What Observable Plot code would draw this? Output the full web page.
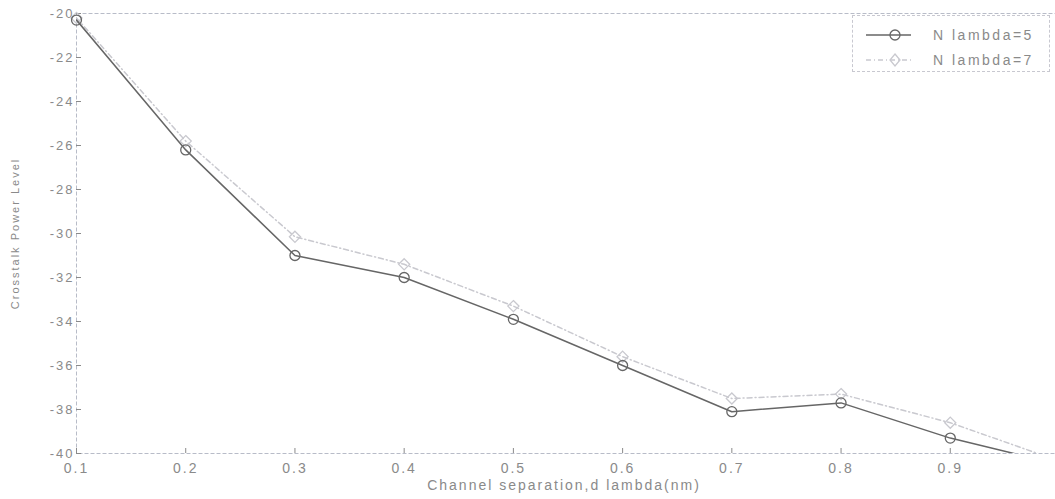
<!DOCTYPE html>
<html>
<head>
<meta charset="utf-8">
<script src="https://cdn.jsdelivr.net/npm/d3@7"></script>
<script src="https://cdn.jsdelivr.net/npm/@observablehq/plot@0.6"></script>
<style>
  html, body { margin: 0; padding: 0; background: #fff; }
  #wrap { position: relative; width: 1055px; height: 499px; overflow: hidden; font-family: "Liberation Sans", Arial, sans-serif; }
  #wrap svg text { letter-spacing: 2px; }
  #legend {
    position: absolute; left: 852px; top: 15px; width: 198px; height: 57px;
    border: 1px dashed #c8c8d0; background: #fff; box-sizing: border-box;
    font-size: 14px; color: #8a8a8a; letter-spacing: 2.5px;
  }
  #legend .row { position: absolute; left: 0; height: 22px; display: flex; align-items: center; }
  #legend svg { display: block; }
</style>
</head>
<body>
<div id="wrap"></div>
<script>
// Channel separation (nm)
const separation = [0.1, 0.2, 0.3, 0.4, 0.5, 0.6, 0.7, 0.8, 0.9, 1.0];
// Crosstalk power level for 5 and 7 wavelengths
const crosstalkN5 = [-20.3, -26.2, -31.0, -32.0, -33.9, -36.0, -38.1, -37.7, -39.3, -40.5];
const crosstalkN7 = [-20.2, -25.8, -30.15, -31.4, -33.3, -35.6, -37.5, -37.3, -38.6, -40.35];
const seriesNames = ["N lambda=5", "N lambda=7"];
const xTicks = [0.1, 0.2, 0.3, 0.4, 0.5, 0.6, 0.7, 0.8, 0.9];
const yTicks = [-40, -38, -36, -34, -32, -30, -28, -26, -24, -22, -20];

const rows5 = separation.map((x, i) => ({x, y: crosstalkN5[i]}));
const rows7 = separation.map((x, i) => ({x, y: crosstalkN7[i]}));

const dark = "#666666";
const light = "#c9c9cf";
const axisGray = "#8a8a8a";

const chart = Plot.plot({
  width: 1055,
  height: 499,
  marginLeft: 76,
  marginRight: -4,
  marginTop: 13,
  marginBottom: 46,
  style: {fontFamily: "'Liberation Sans', Arial, sans-serif", fontSize: "13px", color: axisGray, background: "#fff", overflow: "hidden"},
  x: {domain: [0.1, 1.0], label: null},
  y: {domain: [-40, -20], label: null},
  marks: [
    Plot.frame({stroke: "#b8bcc8", strokeDasharray: "4,2"}),
    Plot.axisX({ticks: xTicks, tickFormat: d => d.toFixed(1), tickSize: -5, tickPadding: 15, stroke: axisGray, fill: axisGray, fontSize: 14}),
    Plot.axisY({ticks: yTicks, tickFormat: d => String(d), tickSize: -5, tickPadding: 7, stroke: axisGray, fill: axisGray, fontSize: 13}),
    Plot.axisY({anchor: "right", ticks: yTicks, tickSize: -5, tickFormat: () => "", stroke: "#c0c0c0"}),
    Plot.line(rows7, {x: "x", y: "y", stroke: light, strokeWidth: 1.5, strokeDasharray: "5,3,1,3", clip: true}),
    Plot.dot(rows7.filter(d => d.y >= -40), {x: "x", y: "y", symbol: "diamond2", r: 5, stroke: light, strokeWidth: 1.3, fill: "none"}),
    Plot.line(rows5, {x: "x", y: "y", stroke: dark, strokeWidth: 1.5, clip: true}),
    Plot.dot(rows5.filter(d => d.y >= -40), {x: "x", y: "y", symbol: "circle", r: 5, stroke: dark, strokeWidth: 1.3, fill: "none"}),
    Plot.text(["Channel separation,d lambda(nm)"], {frameAnchor: "bottom", dy: 36, dx: -4, fill: axisGray, fontSize: 14}),
    Plot.text(["Crosstalk Power Level"], {frameAnchor: "left", textAnchor: "middle", dx: -61, rotate: -90, fill: axisGray, fontSize: 11})
  ]
});

const wrap = document.getElementById("wrap");
wrap.appendChild(chart);

// Legend box in the upper right corner of the plot area
const legend = document.createElement("div");
legend.id = "legend";
const entries = [
  {name: seriesNames[0], color: dark, dash: null, symbol: "circle"},
  {name: seriesNames[1], color: light, dash: "5,3,1,3", symbol: "diamond"}
];
entries.forEach((e, i) => {
  const row = document.createElement("div");
  row.className = "row";
  row.style.top = (8 + i * 25) + "px";
  const marker = e.symbol === "circle"
    ? `<circle cx="42" cy="11" r="5" fill="none" stroke="${e.color}" stroke-width="1.3"/>`
    : `<path d="M42,5 L47,11 L42,17 L37,11 Z" fill="none" stroke="${e.color}" stroke-width="1.3"/>`;
  row.innerHTML = `<svg width="80" height="22">
      <line x1="13" x2="58" y1="11" y2="11" stroke="${e.color}" stroke-width="1.5" ${e.dash ? `stroke-dasharray="${e.dash}"` : ""}/>
      ${marker}
    </svg><span>${e.name}</span>`;
  legend.appendChild(row);
});
wrap.appendChild(legend);
</script>
</body>
</html>
